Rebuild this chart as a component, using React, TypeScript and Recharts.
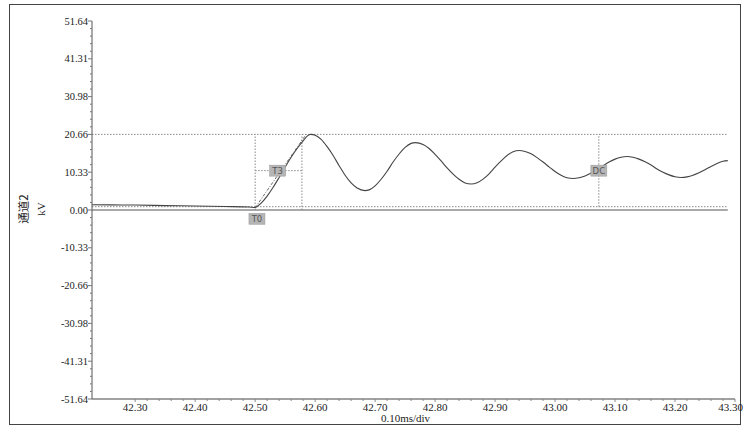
import { Line, LineChart, ReferenceDot, ReferenceLine, XAxis, YAxis } from 'recharts';

// time (ms) and channel 2 voltage (kV)
const times = [
  42.228, 42.26, 42.3, 42.35, 42.4, 42.45, 42.49, 42.5,
  42.51, 42.52, 42.53, 42.54, 42.55, 42.56, 42.57, 42.58, 42.59, 42.593,
  42.6, 42.61, 42.62, 42.63, 42.64, 42.65, 42.66, 42.67, 42.683,
  42.69, 42.7, 42.71, 42.72, 42.73, 42.74, 42.75, 42.76, 42.767,
  42.78, 42.79, 42.8, 42.81, 42.82, 42.83, 42.84, 42.85, 42.86,
  42.87, 42.88, 42.89, 42.9, 42.91, 42.92, 42.93, 42.94,
  42.95, 42.96, 42.97, 42.98, 42.99, 43.0, 43.01, 43.02, 43.03,
  43.04, 43.05, 43.06, 43.07, 43.08, 43.09, 43.1, 43.11, 43.12,
  43.13, 43.14, 43.15, 43.16, 43.17, 43.18, 43.19, 43.2, 43.21,
  43.22, 43.23, 43.24, 43.25, 43.26, 43.27, 43.28, 43.288,
];
const volts = [
  1.45, 1.4, 1.35, 1.2, 1.1, 0.95, 0.8, 0.7,
  1.9, 3.8, 6.2, 8.9, 11.7, 14.4, 16.8, 18.9, 20.55, 20.66,
  20.45, 19.3, 17.3, 14.9, 12.1, 9.5, 7.4, 6.0, 5.3,
  5.5, 6.6, 8.4, 10.6, 13.1, 15.3, 17.1, 18.2, 18.4,
  17.9, 16.8, 15.2, 13.4, 11.5, 9.8, 8.4, 7.4, 7.1,
  7.45, 8.45, 9.9, 11.7, 13.4, 14.9, 15.9, 16.25,
  16.0, 15.35, 14.3, 13.1, 11.8, 10.5, 9.5, 8.8, 8.6,
  8.8, 9.3, 10.1, 11.1, 12.1, 13.1, 13.9, 14.4, 14.6,
  14.4, 13.9, 13.2, 12.3, 11.2, 10.3, 9.6, 9.1, 8.9,
  9.05, 9.5, 10.2, 11.0, 11.9, 12.7, 13.3, 13.5,
];

const yMajorTicks = [-51.64, -41.31, -30.98, -20.66, -10.33, 0, 10.33, 20.66, 30.98, 41.31, 51.64];
const xMajorTicks = [42.3, 42.4, 42.5, 42.6, 42.7, 42.8, 42.9, 43.0, 43.1, 43.2, 43.3];

const X_DOMAIN: [number, number] = [42.228, 43.3];
const Y_DOMAIN: [number, number] = [-51.64, 51.64];

// cursor / marker levels
const peakLevel = 20.66;
const baseLevel = 0.9;
const traceStart = 42.228;
const traceEnd = 43.288;
const t0Time = 42.5;
const t1Time = 42.578;
const t1Level = 10.75;
const dcTime = 43.073;

const markers = [
  { label: 'T0', t: 42.503, v: -2.4 },
  { label: 'T3', t: 42.5375, v: 10.75 },
  { label: 'DC', t: 43.073, v: 10.75 },
];

const rows = times.map((t, i) => ({ t, v: volts[i] }));

// major ticks plus 4 minor ones in between
function withMinors(majors: number[]) {
  const out: number[] = [];
  for (let i = 0; i < majors.length; i++) {
    out.push(majors[i]);
    if (i < majors.length - 1) {
      const step = (majors[i + 1] - majors[i]) / 5;
      for (let k = 1; k < 5; k++) out.push(majors[i] + step * k);
    }
  }
  return out;
}

const isMajor = (v: number, majors: number[]) => majors.some((m) => Math.abs(m - v) < 1e-6);

const SERIF = '"Liberation Serif", "DejaVu Serif", serif';
const DOT_GREY = '#8a8a8a';

function YTick(props: any) {
  const { x, y, payload } = props;
  const major = isMajor(payload.value, yMajorTicks);
  return (
    <g>
      <line x1={x - (major ? 4 : 2)} x2={x} y1={y} y2={y} stroke="#777" strokeWidth={1} />
      {major && (
        <text x={x - 4} y={y} dy={3.5} textAnchor="end" fontFamily={SERIF} fontSize={10.5} fill="#222">
          {payload.value.toFixed(2)}
        </text>
      )}
    </g>
  );
}

function XTick(props: any) {
  const { x, y, payload } = props;
  const major = isMajor(payload.value, xMajorTicks);
  const last = Math.abs(payload.value - 43.3) < 1e-6;
  return (
    <g>
      <line x1={x} x2={x} y1={y} y2={y + (major ? 3 : 2)} stroke="#888" strokeWidth={1} />
      {major && (
        <text
          x={last ? x + 8 : x}
          y={y + 12}
          textAnchor={last ? 'end' : 'middle'}
          fontFamily={SERIF}
          fontSize={11}
          fill="#222"
        >
          {payload.value.toFixed(2)}
        </text>
      )}
    </g>
  );
}

function MarkerBox(label: string) {
  return (props: any) => {
    const { cx, cy } = props;
    return (
      <g>
        <rect x={cx - 8} y={cy - 5.5} width={16} height={11} fill="#b5b5b5" stroke="#9a9a9a" strokeWidth={0.5} />
        <text x={cx} y={cy} dy={3.2} textAnchor="middle" fontFamily='"DejaVu Sans", sans-serif' fontSize={8.5} fill="#555">
          {label}
        </text>
      </g>
    );
  };
}

export default function App() {
  return (
    <div style={{ position: 'fixed', left: 0, top: 0, width: 745, height: 432, background: '#fff' }}>
      <div
        style={{
          position: 'absolute',
          left: 9,
          top: 4,
          width: 730,
          height: 419,
          border: '1.5px solid #444',
        }}
      />
      <div style={{ position: 'absolute', left: 0, top: 0 }}>
        <LineChart width={745} height={432} data={rows} margin={{ top: 21, right: 10, bottom: 3, left: 0 }}>
          <XAxis
            dataKey="t"
            type="number"
            domain={X_DOMAIN}
            allowDataOverflow
            ticks={withMinors(xMajorTicks)}
            interval={0}
            tickSize={0}
            tickMargin={0}
            tick={<XTick />}
            tickLine={false}
            axisLine={{ stroke: '#444', strokeWidth: 1.2 }}
            height={30}
            label={{
              value: '0.10ms/div',
              position: 'insideBottom',
              offset: 7,
              dx: -8,
              style: { fontFamily: SERIF, fontSize: 11, fill: '#222' },
            }}
          />
          <YAxis
            type="number"
            domain={Y_DOMAIN}
            allowDataOverflow
            ticks={withMinors(yMajorTicks)}
            interval={0}
            tickSize={0}
            tickMargin={0}
            tick={<YTick />}
            tickLine={false}
            axisLine={{ stroke: '#555', strokeWidth: 1 }}
            width={92}
          />

          {/* level lines */}
          <ReferenceLine
            segment={[{ x: traceStart, y: peakLevel }, { x: traceEnd, y: peakLevel }]}
            stroke={DOT_GREY}
            strokeDasharray="1.5 1.5"
          />
          <ReferenceLine
            segment={[{ x: traceStart, y: baseLevel }, { x: traceEnd, y: baseLevel }]}
            stroke={DOT_GREY}
            strokeDasharray="1.5 1.5"
          />
          <ReferenceLine
            segment={[{ x: traceStart, y: 0 }, { x: traceEnd, y: 0 }]}
            stroke="#555"
            strokeWidth={1.2}
          />

          {/* cursors */}
          <ReferenceLine
            segment={[{ x: t0Time, y: 0 }, { x: t0Time, y: peakLevel }]}
            stroke={DOT_GREY}
            strokeDasharray="1.5 1.5"
          />
          <ReferenceLine
            segment={[{ x: t1Time, y: 0 }, { x: t1Time, y: peakLevel }]}
            stroke={DOT_GREY}
            strokeDasharray="1.5 1.5"
          />
          <ReferenceLine
            segment={[{ x: t0Time, y: t1Level }, { x: t1Time, y: t1Level }]}
            stroke={DOT_GREY}
            strokeDasharray="1.5 1.5"
          />
          <ReferenceLine
            segment={[{ x: dcTime, y: baseLevel }, { x: dcTime, y: peakLevel }]}
            stroke={DOT_GREY}
            strokeDasharray="1.5 1.5"
          />
          {/* front-time line */}
          <ReferenceLine
            segment={[{ x: t0Time, y: 0.6 }, { x: 42.585, y: peakLevel }]}
            stroke="#666"
            strokeDasharray="3 1.5 1 1.5"
          />

          <Line
            dataKey="v"
            type="monotone"
            stroke="#444"
            strokeWidth={1.1}
            dot={false}
            activeDot={false}
            isAnimationActive={false}
          />

          {markers.map((m) => (
            <ReferenceDot key={m.label} x={m.t} y={m.v} r={8} shape={MarkerBox(m.label)} />
          ))}
        </LineChart>
      </div>
      <svg width={745} height={432} style={{ position: 'absolute', left: 0, top: 0, pointerEvents: 'none' }}>
        <text
          transform="translate(28,209) rotate(-90)"
          textAnchor="middle"
          fontFamily='"Noto Sans CJK SC", sans-serif'
          fontSize={11.5}
          fill="#222"
        >
          通道2
        </text>
        <text transform="translate(45,209) rotate(-90)" textAnchor="middle" fontFamily={SERIF} fontSize={11} fill="#222">
          kV
        </text>
      </svg>
    </div>
  );
}
